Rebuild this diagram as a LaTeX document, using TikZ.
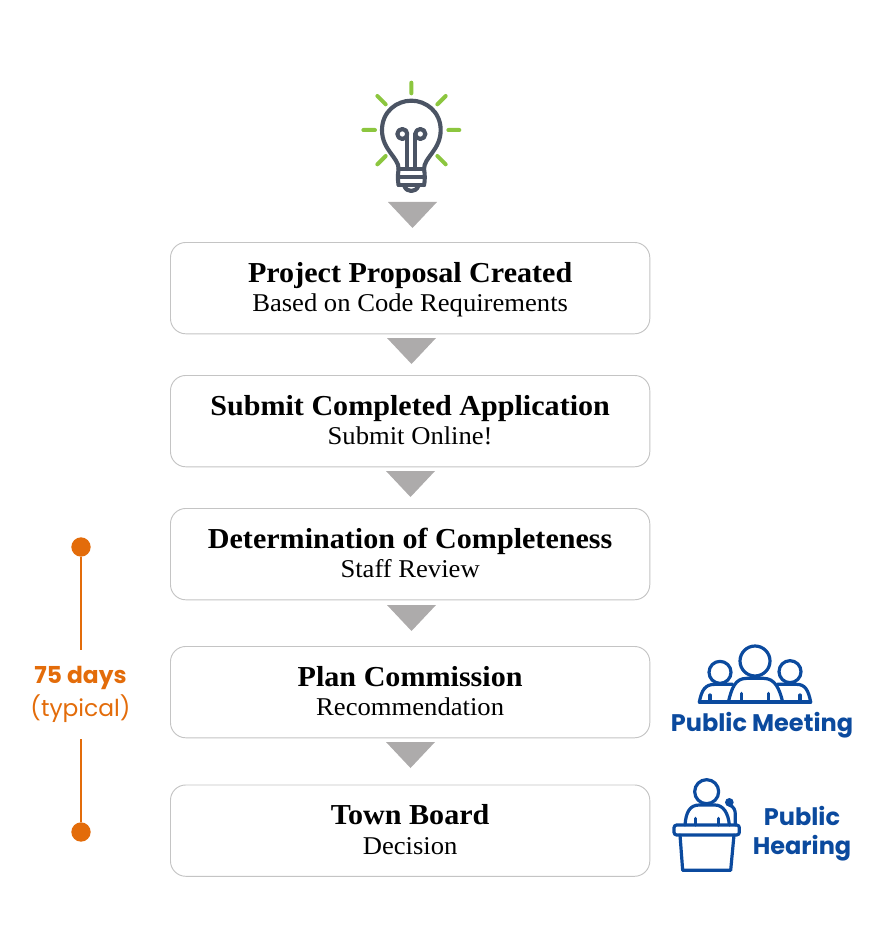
\documentclass[tikz,border=0pt]{standalone}
\usepackage{fontspec}
\usetikzlibrary{calc}
\setmainfont{Liberation Serif}
\newfontfamily\serifwide[FakeStretch=1.04]{Liberation Serif}
\newfontfamily\iconsans{Poppins}
\definecolor{boxline}{HTML}{C4C4C4}
\definecolor{tri}{HTML}{ADABAB}
\definecolor{bulb}{HTML}{4B5464}
\definecolor{ray}{HTML}{8CC63F}
\definecolor{orng}{HTML}{E36C0A}
\definecolor{pblue}{HTML}{0B4A9E}
\tikzset{
  x=.75pt,y=-.75pt,
  stage/.style={draw=boxline,line width=.7pt,rounded corners=11.5pt,fill=white,minimum width=359.5pt,minimum height=68.5pt,anchor=north west,inner sep=0pt},
  titletext/.style={font=\serifwide\fontsize{21.7}{24}\selectfont\bfseries,anchor=base,inner sep=0pt},
  subtext/.style={font=\serifwide\fontsize{19.2}{22}\selectfont,anchor=base,inner sep=0pt},
  downarrow/.style={fill=tri,draw=none},
  dotnode/.style={circle,fill=orng,draw=none,minimum size=14.5pt,inner sep=0pt},
  timeline/.style={draw=orng,line width=1.5pt},
  icon/.style={draw=pblue,line width=2.4pt,line cap=round,line join=round},
  bulbline/.style={draw=bulb,line width=3.1pt,line cap=round,line join=round},
  rayline/.style={draw=ray,line width=3pt,line cap=round},
  pubtext/.style={text=pblue,font=\iconsans\bfseries\fontsize{18}{20}\selectfont,inner sep=0pt,anchor=center},
}
\newcommand{\stagelabels}[3]{%
  \node[titletext] (#1t) at ($(#1.north)+(0,40)$) {#2};
  \node[subtext] (#1b) at ($(#1.north)+(0,69.5)$) {#3};}
\newcommand{\downtri}[2]{\fill[downarrow] (#1-24.5,#2) -- (#1+24.5,#2) -- (#1,#2+26) -- cycle;}
\begin{document}
\begin{tikzpicture}
\useasboundingbox (0,0) rectangle (872,941);
% stages
\node[stage] (s1) at (170,242) {};
\node[stage] (s2) at (170,375) {};
\node[stage] (s3) at (170,508) {};
\node[stage] (s4) at (170,646) {};
\node[stage] (s5) at (170,784.5) {};
\stagelabels{s1}{Project Proposal Created}{Based on Code Requirements}
\stagelabels{s2}{Submit Completed Application}{Submit Online!}
\stagelabels{s3}{Determination of Completeness}{Staff Review}
\stagelabels{s4}{Plan Commission}{Recommendation}
\stagelabels{s5}{Town Board}{Decision}
% arrows
\downtri{412.5}{202}
\downtri{411.5}{338}
\downtri{410.5}{471}
\downtri{411.5}{605}
\downtri{410.5}{742}
% timeline
\node[dotnode] (d1) at (81,547) {};
\node[dotnode] (d2) at (81,832) {};
\coordinate (t1) at (81,650);
\coordinate (t2) at (81,739);
\draw[timeline] (d1) -- (t1);
\draw[timeline] (t2) -- (d2);
\node[text=orng,font=\iconsans\bfseries\fontsize{17.5}{20}\selectfont,inner sep=0pt] (days) at (80.5,678) {75 days};
\node[text=orng,font=\iconsans\fontsize{17.5}{20}\selectfont,inner sep=0pt] (typ) at (80.5,709) {(typical)};
% public labels
\node[pubtext] (pm) at (762,725) {Public Meeting};
\node[pubtext] (ph1) at (802,816) {Public};
\node[pubtext] (ph2) at (802,848) {Hearing};
% bulb
\begin{scope}[x=.25pt,y=-.25pt,shift={(1050,210)}]
  \draw[rayline] (184,38)--(184,70) (82,78)--(107,103) (287,78)--(262,103)
    (40,180)--(75,180) (295,180)--(328,180) (107,258)--(82,283) (262,258)--(287,283);
  \draw[bulbline] (146,297) .. controls (146,262) and (96,240) .. (96,180)
    .. controls (96,125) and (140,92) .. (184,92)
    .. controls (228,92) and (272,125) .. (272,180)
    .. controls (272,240) and (222,262) .. (222,297);
  \draw[bulbline] (157,192) circle[radius=15] (211,192) circle[radius=15];
  \draw[bulbline] (172,192) -- (172,297) (196,192) -- (196,297);
  \draw[bulbline] (146,297) -- (222,297) (146,322) -- (222,322) (146,345) -- (222,345);
  \draw[bulbline] (146,297) .. controls (143,310) and (143,335) .. (146,345);
  \draw[bulbline] (222,297) .. controls (225,310) and (225,335) .. (222,345);
  \draw[bulbline] (163,348) .. controls (170,368) and (198,368) .. (205,348);
\end{scope}
% meeting and podium icons
\begin{scope}[x=.25pt,y=-.25pt,shift={(1980,1905)}]
  \draw[icon] (285,78) circle[radius=45];
  \draw[icon] (180,112) circle[radius=33];
  \draw[icon] (390,110) circle[radius=33];
  \draw[icon] (118,201) -- (452,201);
  \draw[icon] (205,201) .. controls (215,160) and (225,130) .. (260,130) -- (310,130)
     .. controls (345,130) and (358,160) .. (368,201);
  \draw[icon] (118,201) .. controls (125,165) and (135,148) .. (165,148) -- (218,148);
  \draw[icon] (352,148) -- (410,148) .. controls (435,148) and (445,165) .. (452,201);
  \draw[icon] (150,180)--(150,201) (245,175)--(245,201) (325,175)--(325,201) (420,180)--(420,201);
  % podium
  \draw[icon] (140,470) circle[radius=36];
  \draw[icon] (75,570) .. controls (78,530) and (90,510) .. (118,510) -- (165,510)
     .. controls (190,510) and (205,535) .. (208,570);
  \draw[icon] (107,550)--(107,570) (175,550)--(175,570);
  \fill[pblue] (208,502) circle[radius=13];
  \draw[icon] (208,510) .. controls (222,515) and (226,525) .. (226,540) -- (226,570);
  \draw[icon,rounded corners=2pt] (42,570) rectangle (238,600);
  \draw[icon] (60,600) -- (68,706) -- (212,706) -- (222,600);
\end{scope}
\end{tikzpicture}
\end{document}
